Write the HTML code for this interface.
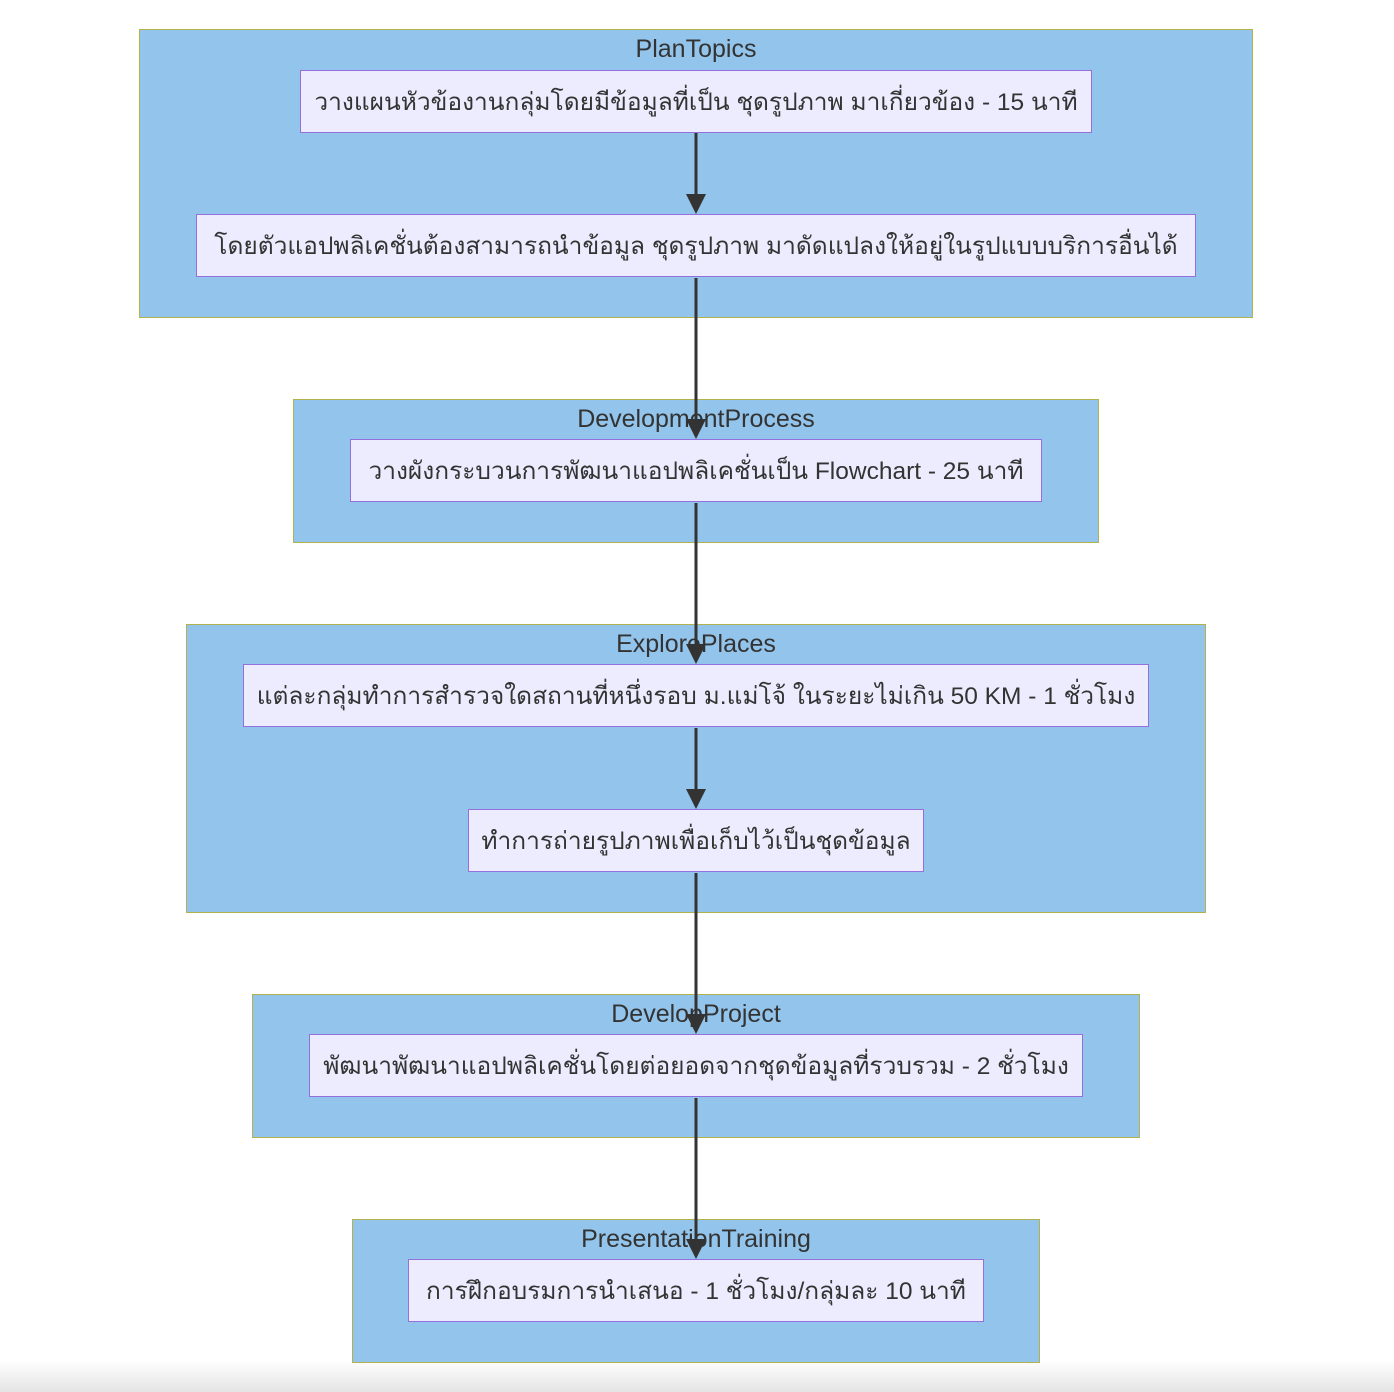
<!DOCTYPE html>
<html><head><meta charset="utf-8"><style>
html,body{margin:0;padding:0}
body{width:1394px;height:1392px;position:relative;overflow:hidden;background:linear-gradient(to bottom,#fff 0,#fff 1360px,#e4e4e4 1392px);font-family:"Liberation Sans","DejaVu Sans",sans-serif;color:#333}
.c{position:absolute;background:#93c4ec;border:1.5px solid #b3b34e;box-sizing:border-box}
.t{position:absolute;left:0;right:0;text-align:center;font-size:25px;line-height:30px;color:#333}
.n{position:absolute;background:#ececfe;border:1.5px solid #9370db;box-sizing:border-box;display:flex;align-items:center;justify-content:center;font-size:24.5px;color:#333;white-space:nowrap}
svg{position:absolute;left:0;top:0}
</style></head><body>
<div class="c" style="left:139px;top:29px;width:1114px;height:289px"><div class="t" style="top:4px">PlanTopics</div></div>
<div class="n" style="left:300px;top:70px;width:792px;height:63px">วางแผนหัวข้องานกลุ่มโดยมีข้อมูลที่เป็น ชุดรูปภาพ มาเกี่ยวข้อง - 15 นาที</div>
<div class="n" style="left:196px;top:214px;width:1000px;height:63px">โดยตัวแอปพลิเคชั่นต้องสามารถนำข้อมูล ชุดรูปภาพ มาดัดแปลงให้อยู่ในรูปแบบบริการอื่นได้</div>

<div class="c" style="left:293px;top:399px;width:806px;height:144px"><div class="t" style="top:4px">DevelopmentProcess</div></div>
<div class="n" style="left:350px;top:439px;width:692px;height:63px">วางผังกระบวนการพัฒนาแอปพลิเคชั่นเป็น Flowchart - 25 นาที</div>

<div class="c" style="left:186px;top:624px;width:1020px;height:289px"><div class="t" style="top:4px">ExplorePlaces</div></div>
<div class="n" style="left:243px;top:664px;width:906px;height:63px">แต่ละกลุ่มทำการสำรวจใดสถานที่หนึ่งรอบ ม.แม่โจ้ ในระยะไม่เกิน 50 KM - 1 ชั่วโมง</div>
<div class="n" style="left:468px;top:809px;width:456px;height:63px">ทำการถ่ายรูปภาพเพื่อเก็บไว้เป็นชุดข้อมูล</div>

<div class="c" style="left:252px;top:994px;width:888px;height:144px"><div class="t" style="top:4px">DevelopProject</div></div>
<div class="n" style="left:309px;top:1034px;width:774px;height:63px">พัฒนาพัฒนาแอปพลิเคชั่นโดยต่อยอดจากชุดข้อมูลที่รวบรวม - 2 ชั่วโมง</div>

<div class="c" style="left:352px;top:1219px;width:688px;height:144px"><div class="t" style="top:4px">PresentationTraining</div></div>
<div class="n" style="left:408px;top:1259px;width:576px;height:63px">การฝึกอบรมการนำเสนอ - 1 ชั่วโมง/กลุ่มละ 10 นาที</div>

<svg width="1394" height="1392">
<g stroke="#333" stroke-width="3">
<line x1="696" y1="133" x2="696" y2="198"/>
<line x1="696" y1="278" x2="696" y2="423"/>
<line x1="696" y1="503" x2="696" y2="648"/>
<line x1="696" y1="728" x2="696" y2="793"/>
<line x1="696" y1="873" x2="696" y2="1018"/>
<line x1="696" y1="1098" x2="696" y2="1243"/>
</g>
<g fill="#333">
<polygon points="686,194 706,194 696,214"/>
<polygon points="686,419 706,419 696,439"/>
<polygon points="686,644 706,644 696,664"/>
<polygon points="686,789 706,789 696,809"/>
<polygon points="686,1014 706,1014 696,1034"/>
<polygon points="686,1239 706,1239 696,1259"/>
</g>
</svg>
</body></html>
